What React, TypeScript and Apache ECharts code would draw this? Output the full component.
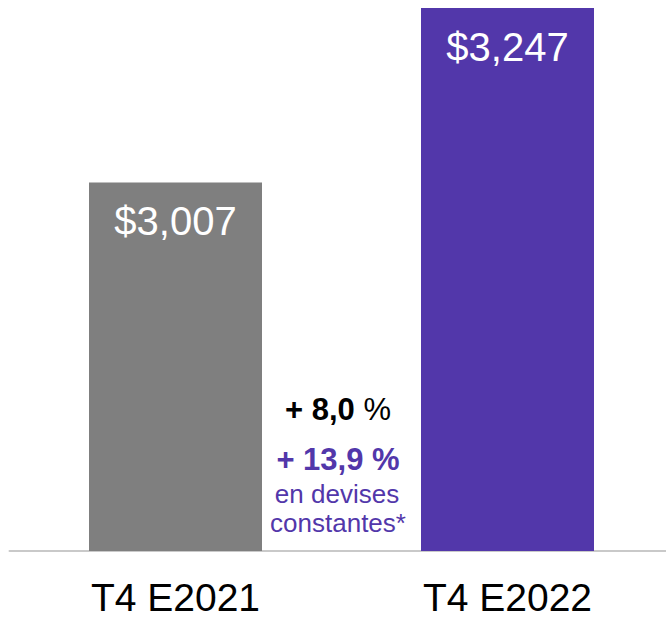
import React, { useEffect, useRef } from "react";
import * as echarts from "echarts";

const categories = ["T4 E2021", "T4 E2022"];
const values = [3007, 3247];
const barColors = ["#7f7f7f", "#5237aa"];
const valueLabels = ["$3,007", "$3,247"];
const growthReported = "+ 8,0";
const growthConstant = "+ 13,9";
const noteLines = ["en devises", "constantes*"];

const FONT = "'Liberation Sans', Arial, Helvetica, sans-serif";

export default function App() {
  const ref = useRef<HTMLDivElement>(null);
  useEffect(() => {
    if (!ref.current) return;
    const chart = echarts.init(ref.current, null, { renderer: "svg" });
    chart.setOption({
      animation: false,
      backgroundColor: "#ffffff",
      grid: { left: 9.5, width: 664, top: 8, bottom: 69, containLabel: false },
      xAxis: {
        type: "category",
        data: categories,
        axisLine: { show: true, lineStyle: { color: "#c9c9c9", width: 2 } },
        axisTick: { show: false },
        axisLabel: {
          fontSize: 39,
          lineHeight: 36,
          color: "#000000",
          fontFamily: FONT,
          margin: 28,
        },
      },
      yAxis: {
        type: "value",
        min: 2500,
        max: 3247,
        show: false,
        splitLine: { show: false },
      },
      series: [
        {
          type: "bar",
          barWidth: 173,
          data: values.map((v, i) => ({
            value: v,
            itemStyle: { color: barColors[i] },
            label: { formatter: valueLabels[i] },
          })),
          label: {
            show: true,
            position: "insideTop",
            distance: 19,
            fontSize: 40,
            color: "#ffffff",
            fontFamily: FONT,
          },
        },
      ],
      graphic: [
        {
          type: "text",
          x: 338,
          y: 409,
          style: {
            text: `{b|${growthReported} }{r|%}`,
            align: "center",
            verticalAlign: "middle",
            rich: {
              b: { fontSize: 31, fontWeight: "bold", fill: "#000000", fontFamily: FONT },
              r: { fontSize: 31, fill: "#000000", fontFamily: FONT },
            },
          },
        },
        {
          type: "text",
          x: 338,
          y: 459,
          style: {
            text: `${growthConstant} %`,
            align: "center",
            verticalAlign: "middle",
            fontSize: 31,
            fontWeight: "bold",
            fill: "#5237aa",
            fontFamily: FONT,
          },
        },
        {
          type: "text",
          x: 337,
          y: 494,
          style: {
            text: noteLines[0],
            align: "center",
            verticalAlign: "middle",
            fontSize: 26,
            fill: "#5237aa",
            fontFamily: FONT,
          },
        },
        {
          type: "text",
          x: 338,
          y: 523,
          style: {
            text: noteLines[1],
            align: "center",
            verticalAlign: "middle",
            fontSize: 26,
            fill: "#5237aa",
            fontFamily: FONT,
          },
        },
      ],
    });
    return () => chart.dispose();
  }, []);
  return (
    <div
      ref={ref}
      style={{ position: "absolute", left: 0, top: 0, width: 680, height: 620, overflow: "hidden" }}
    />
  );
}
